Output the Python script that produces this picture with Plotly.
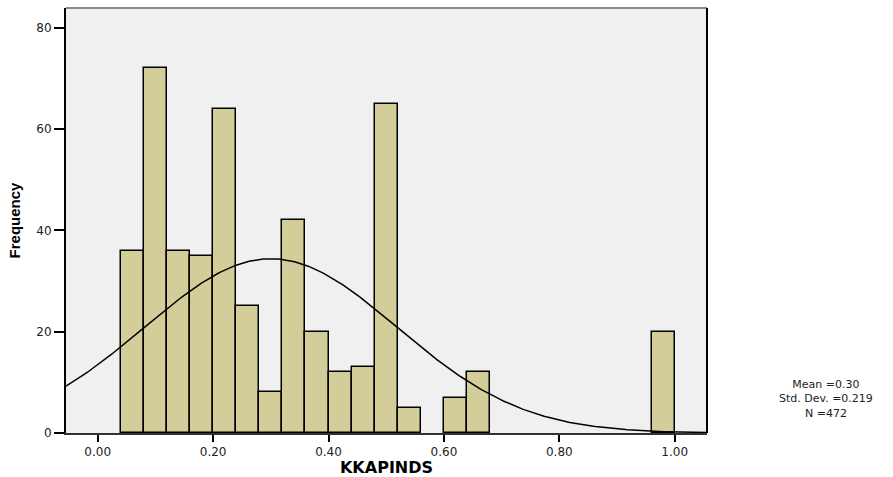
import numpy as np
import plotly.graph_objects as go

# Histogram bins (left edges) and frequencies
bin_left = [0.04, 0.08, 0.12, 0.16, 0.20, 0.24, 0.28, 0.32, 0.36, 0.40, 0.44, 0.48, 0.52, 0.60, 0.64, 0.96]
counts = [36, 72, 36, 35, 64, 25, 8, 42, 20, 12, 13, 65, 5, 7, 12, 20]
bin_width = 0.04

mean_val = 0.30
sd_val = 0.219
n_val = 472

x_ticks = [0.0, 0.2, 0.4, 0.6, 0.8, 1.0]
x_tick_text = ["0.00", "0.20", "0.40", "0.60", "0.80", "1.00"]
y_ticks = [0, 20, 40, 60, 80]

x_range = [-0.055, 1.056]
y_range = [0, 83.9]

centers = [b + bin_width / 2 for b in bin_left]

fig = go.Figure()
fig.add_trace(go.Bar(
    x=centers, y=counts, width=bin_width,
    marker=dict(color="#D3CE99", line=dict(color="black", width=1.5)),
    showlegend=False, hoverinfo="x+y",
))

# Fitted normal curve from the shown statistics
xc = np.linspace(x_range[0], x_range[1], 300)
yc = n_val * bin_width / (sd_val * np.sqrt(2 * np.pi)) * np.exp(-0.5 * ((xc - mean_val) / sd_val) ** 2)
fig.add_trace(go.Scatter(x=xc, y=yc, mode="lines", line=dict(color="black", width=1.5),
                         showlegend=False, hoverinfo="skip"))

wide = "DejaVu Sans, Verdana, sans-serif"
narrow = "Liberation Sans, Arial, sans-serif"

fig.update_layout(
    width=893, height=477,
    margin=dict(l=66, r=186, t=8, b=44),
    paper_bgcolor="white",
    plot_bgcolor="#F0F0F0",
    bargap=0,
    font=dict(family=wide, size=11, color="black"),
    xaxis=dict(
        range=x_range, tickvals=x_ticks, ticktext=x_tick_text,
        showgrid=False, zeroline=False, automargin=False,
        ticks="outside", ticklen=7, tickwidth=2, tickcolor="black",
        showline=True, linecolor="#333333", linewidth=2,
        tickfont=dict(size=12, family=wide, color="#222222"),
        title=dict(text="<b>KKAPINDS</b>", font=dict(size=16, family=wide), standoff=2),
    ),
    yaxis=dict(
        range=y_range, tickvals=y_ticks,
        showgrid=False, zeroline=False, automargin=False,
        ticks="outside", ticklen=10, tickwidth=2, tickcolor="black",
        showline=True, linecolor="black", linewidth=2,
        tickfont=dict(size=12, family=wide, color="#222222"),
        title=dict(text="<b>Frequency</b>", font=dict(size=15, family=narrow), standoff=12),
    ),
    shapes=[
        dict(type="line", xref="paper", yref="paper", x0=0, x1=1, y0=1, y1=1,
             line=dict(color="#888888", width=2)),
        dict(type="line", xref="paper", yref="paper", x0=1, x1=1, y0=0, y1=1,
             line=dict(color="black", width=2)),
    ],
    annotations=[
        dict(xref="paper", yref="paper", x=1.186, y=0.08, xanchor="center", yanchor="middle",
             text="Mean =0.30<br>Std. Dev. =0.219<br>N =472", showarrow=False,
             font=dict(size=11, family=wide, color="#222222"), align="center"),
    ],
)

fig.write_html("out.html")
